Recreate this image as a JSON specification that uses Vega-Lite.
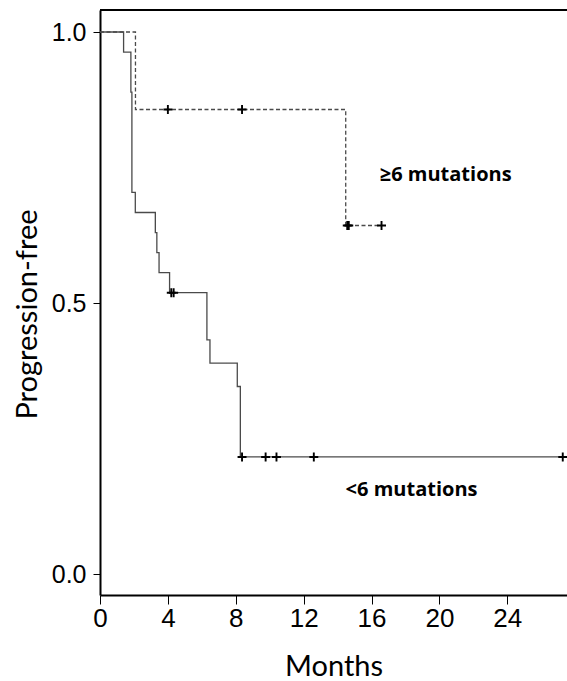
{
  "$schema": "https://vega.github.io/schema/vega-lite/v6.json",
  "width": 467,
  "height": 585,
  "autosize": {"type": "none"},
  "padding": {"left": 100, "top": 10, "right": 0, "bottom": 86},
  "background": "white",
  "config": {"view": {"stroke": null}},
  "datasets": {
    "km": [
      {"group": "<6 mutations", "kind": "step", "time": 0, "surv": 1.0},
      {"group": "<6 mutations", "kind": "step", "time": 1.39, "surv": 0.963},
      {"group": "<6 mutations", "kind": "step", "time": 1.82, "surv": 0.889},
      {"group": "<6 mutations", "kind": "step", "time": 1.88, "surv": 0.704},
      {"group": "<6 mutations", "kind": "step", "time": 2.08, "surv": 0.667},
      {"group": "<6 mutations", "kind": "step", "time": 3.26, "surv": 0.630},
      {"group": "<6 mutations", "kind": "step", "time": 3.35, "surv": 0.593},
      {"group": "<6 mutations", "kind": "step", "time": 3.48, "surv": 0.556},
      {"group": "<6 mutations", "kind": "step", "time": 4.10, "surv": 0.519},
      {"group": "<6 mutations", "kind": "step", "time": 6.30, "surv": 0.432},
      {"group": "<6 mutations", "kind": "step", "time": 6.48, "surv": 0.389},
      {"group": "<6 mutations", "kind": "step", "time": 8.09, "surv": 0.346},
      {"group": "<6 mutations", "kind": "step", "time": 8.27, "surv": 0.216},
      {"group": "<6 mutations", "kind": "step", "time": 27.27, "surv": 0.216},
      {"group": "<6 mutations", "kind": "censor", "time": 4.20, "surv": 0.519},
      {"group": "<6 mutations", "kind": "censor", "time": 4.34, "surv": 0.519},
      {"group": "<6 mutations", "kind": "censor", "time": 8.37, "surv": 0.216},
      {"group": "<6 mutations", "kind": "censor", "time": 9.76, "surv": 0.216},
      {"group": "<6 mutations", "kind": "censor", "time": 10.40, "surv": 0.216},
      {"group": "<6 mutations", "kind": "censor", "time": 12.60, "surv": 0.216},
      {"group": "<6 mutations", "kind": "censor", "time": 27.27, "surv": 0.216},
      {"group": "≥6 mutations", "kind": "step", "time": 0, "surv": 1.0},
      {"group": "≥6 mutations", "kind": "step", "time": 2.09, "surv": 0.857},
      {"group": "≥6 mutations", "kind": "step", "time": 14.48, "surv": 0.643},
      {"group": "≥6 mutations", "kind": "step", "time": 16.59, "surv": 0.643},
      {"group": "≥6 mutations", "kind": "censor", "time": 4.00, "surv": 0.857},
      {"group": "≥6 mutations", "kind": "censor", "time": 8.37, "surv": 0.857},
      {"group": "≥6 mutations", "kind": "censor", "time": 14.57, "surv": 0.643},
      {"group": "≥6 mutations", "kind": "censor", "time": 14.66, "surv": 0.643},
      {"group": "≥6 mutations", "kind": "censor", "time": 16.59, "surv": 0.643}
    ],
    "labels": [
      {"label": "≥6 mutations", "time": 20.37, "surv": 0.726},
      {"label": "<6 mutations", "time": 18.36, "surv": 0.144}
    ],
    "frame": [
      {"edge": "top", "surv": 1.0406}
    ]
  },
  "layer": [
    {
      "data": {"name": "km"},
      "transform": [{"filter": "datum.kind === 'step'"}],
      "mark": {"type": "line", "interpolate": "step-after", "color": "#4a4a4a", "strokeWidth": 1.3},
      "encoding": {
        "x": {
          "field": "time", "type": "quantitative",
          "scale": {"domain": [0, 27.52], "nice": false, "zero": false},
          "axis": {
            "orient": "bottom",
            "values": [0, 4, 8, 12, 16, 20, 24],
            "grid": false,
            "domainColor": "black", "domainWidth": 2,
            "tickColor": "black", "tickWidth": 1, "tickSize": 9,
            "labelFont": "Liberation Sans", "labelFontSize": 26, "labelColor": "black", "labelPadding": 1,
            "labelFlush": false, "labelOverlap": false,
            "title": "Months",
            "titleFont": "Lato", "titleFontSize": 29, "titleFontWeight": "normal", "titleColor": "black",
            "titleBaseline": "alphabetic", "titleY": 80
          }
        },
        "y": {
          "field": "surv", "type": "quantitative",
          "scale": {"domain": [-0.0387, 1.0406], "nice": false, "zero": false},
          "axis": {
            "values": [0, 0.5, 1],
            "format": ".1f",
            "grid": false,
            "domainColor": "black", "domainWidth": 2,
            "tickColor": "black", "tickWidth": 1, "tickSize": 7,
            "labelFont": "Liberation Sans", "labelFontSize": 25, "labelColor": "black", "labelPadding": 7,
            "title": "Progression-free",
            "titleFont": "Lato", "titleFontSize": 29, "titleFontWeight": "normal", "titleColor": "black",
            "titleBaseline": "alphabetic", "titleX": -64, "titleY": 304
          }
        },
        "detail": {"field": "group"},
        "strokeDash": {
          "field": "group", "type": "nominal",
          "scale": {"domain": ["<6 mutations", "≥6 mutations"], "range": [[1, 0], [4, 2.5]]},
          "legend": null
        }
      }
    },
    {
      "data": {"name": "frame"},
      "mark": {"type": "rule", "color": "black", "strokeWidth": 2},
      "encoding": {
        "y": {"field": "surv", "type": "quantitative"}
      }
    },
    {
      "data": {"name": "km"},
      "transform": [{"filter": "datum.kind === 'censor'"}],
      "mark": {"type": "point", "shape": "M-1,0L1,0M0,-1L0,1", "filled": false, "stroke": "black", "strokeWidth": 1.9, "size": 80, "opacity": 1},
      "encoding": {
        "x": {"field": "time", "type": "quantitative"},
        "y": {"field": "surv", "type": "quantitative"}
      }
    },
    {
      "data": {"name": "labels"},
      "mark": {"type": "text", "font": "Open Sans", "fontWeight": "bold", "fontSize": 20, "align": "center", "baseline": "alphabetic", "color": "black"},
      "encoding": {
        "x": {"field": "time", "type": "quantitative"},
        "y": {"field": "surv", "type": "quantitative"},
        "text": {"field": "label"}
      }
    }
  ]
}
